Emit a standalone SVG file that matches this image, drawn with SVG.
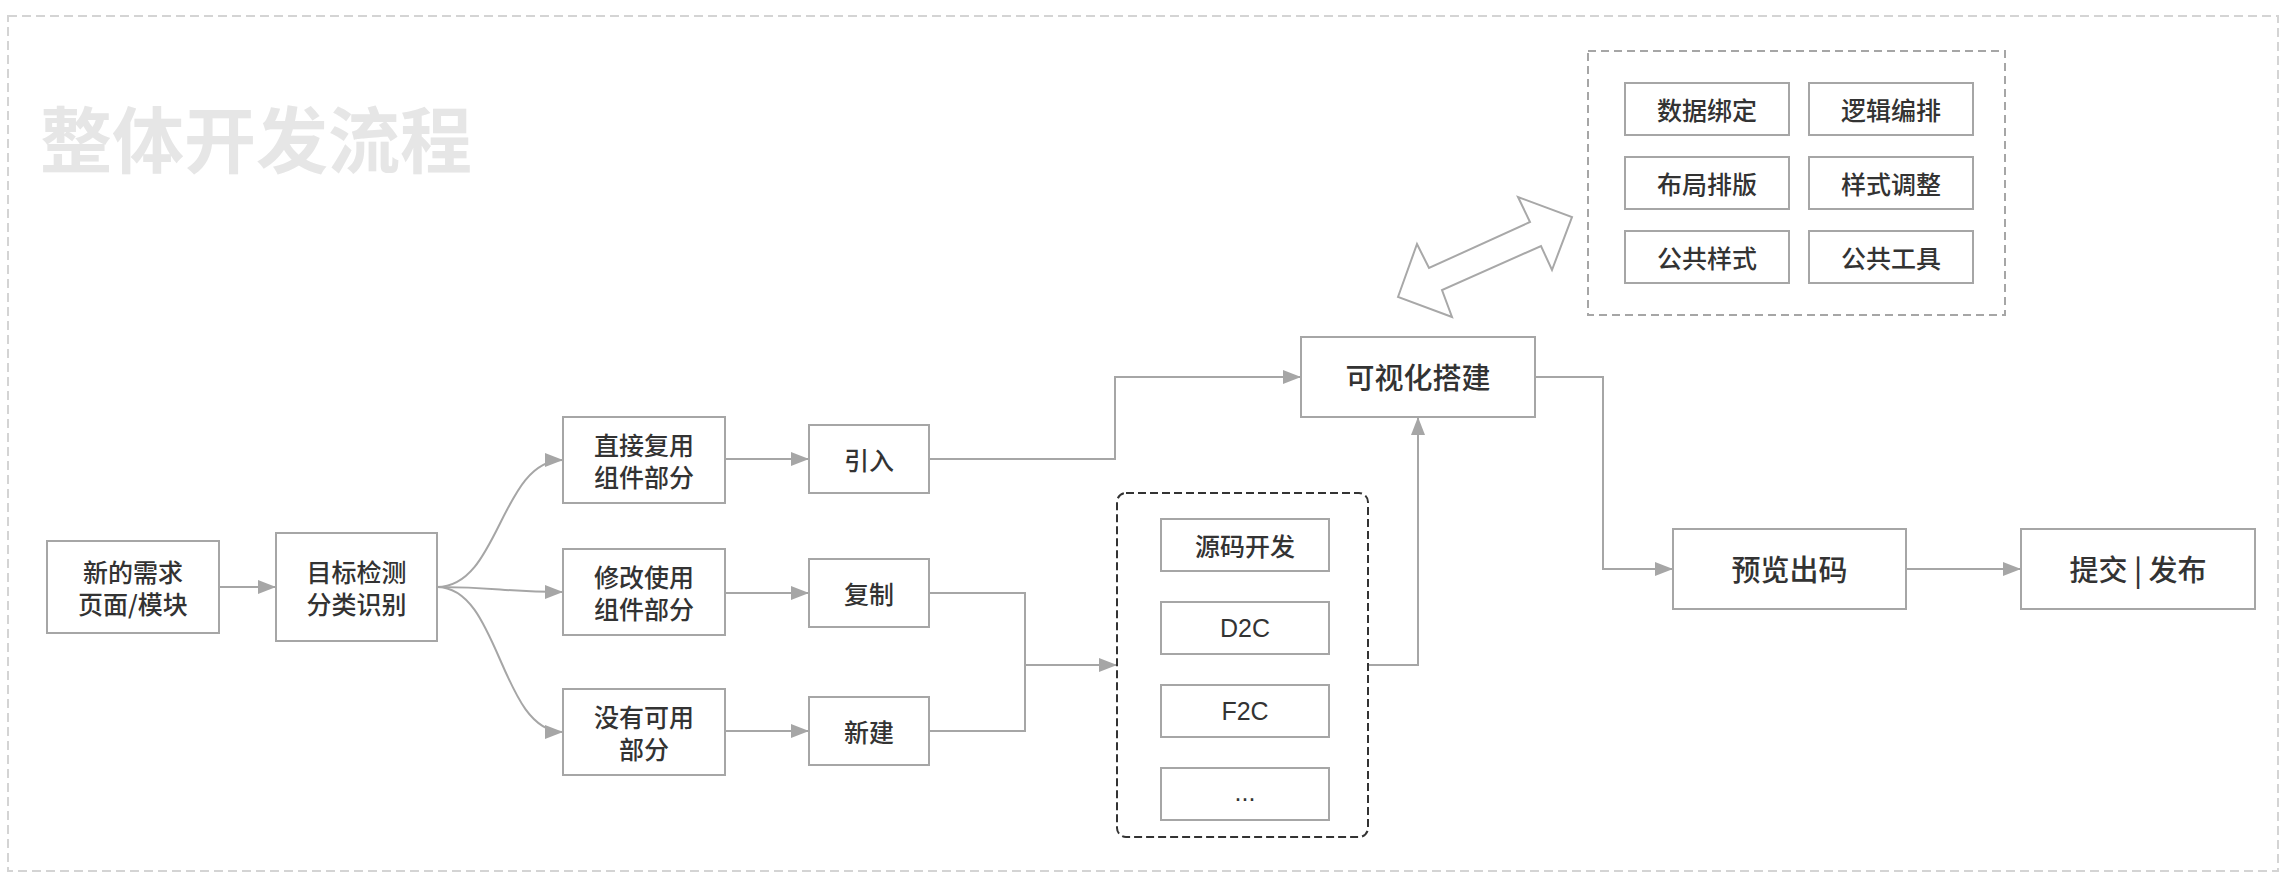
<svg xmlns="http://www.w3.org/2000/svg" width="2294" height="886" viewBox="0 0 2294 886">
<style>
  .box { fill: #ffffff; stroke: #a6a6a6; stroke-width: 2; }
  .t { font-family: "Noto Sans CJK SC", "Liberation Sans", sans-serif; font-size: 25px; font-weight: 500; fill: #333333; text-anchor: middle; dominant-baseline: central; }
  .tl { font-family: "Liberation Sans", "Noto Sans CJK SC", sans-serif; font-size: 25px; fill: #333333; text-anchor: middle; dominant-baseline: central; }
  .big { font-size: 29px; }
  .conn { fill: none; stroke: #a6a6a6; stroke-width: 2; }
</style>
<defs>
  <marker id="ah" markerUnits="userSpaceOnUse" markerWidth="20" markerHeight="14" refX="18" refY="7" orient="auto">
    <path d="M0,0 L18,7 L0,14 Z" fill="#a6a6a6"/>
  </marker>
</defs>
<rect x="8" y="16" width="2270" height="855" fill="none" stroke="#d4d4d4" stroke-width="2" stroke-dasharray="9 5"/>
<text x="40" y="135" font-family="Noto Sans CJK SC, sans-serif" font-size="72" font-weight="700" fill="#e6e6e6" dominant-baseline="central">整体开发流程</text>

<g id="connectors">
  <path class="conn" d="M219,587 H276" marker-end="url(#ah)"/>
  <path class="conn" d="M437,587 C500,587 500,460 563,460" marker-end="url(#ah)"/>
  <path class="conn" d="M437,587 C500,587 500,592 563,592" marker-end="url(#ah)"/>
  <path class="conn" d="M437,587 C500,587 500,732 563,732" marker-end="url(#ah)"/>
  <path class="conn" d="M725,459 H809" marker-end="url(#ah)"/>
  <path class="conn" d="M725,593 H809" marker-end="url(#ah)"/>
  <path class="conn" d="M725,731 H809" marker-end="url(#ah)"/>
  <path class="conn" d="M929,459 H1115 V377 H1301" marker-end="url(#ah)"/>
  <path class="conn" d="M929,593 H1025 V665 H1117" marker-end="url(#ah)"/>
  <path class="conn" d="M929,731 H1025 V665"/>
  <path class="conn" d="M1368,665 H1418 V417" marker-end="url(#ah)"/>
  <path class="conn" d="M1535,377 H1603 V569 H1673" marker-end="url(#ah)"/>
  <path class="conn" d="M1906,569 H2021" marker-end="url(#ah)"/>
  <polygon points="1398,297 1417,244 1429,268 1530,222 1518,197 1572,217 1552,270 1541,246 1442,290 1452,317" fill="#ffffff" stroke="#a8a8a8" stroke-width="2" stroke-linejoin="miter"/>
</g>

<g id="n-new">
  <rect class="box" x="47" y="541" width="172" height="92"/>
  <text class="t" x="133" y="571">新的需求</text>
  <text class="t" x="133" y="603">页面/模块</text>
</g>
<g id="n-detect">
  <rect class="box" x="276" y="533" width="161" height="108"/>
  <text class="t" x="356.5" y="571">目标检测</text>
  <text class="t" x="356.5" y="603">分类识别</text>
</g>
<g id="n-reuse">
  <rect class="box" x="563" y="417" width="162" height="86"/>
  <text class="t" x="644" y="444">直接复用</text>
  <text class="t" x="644" y="476">组件部分</text>
</g>
<g id="n-modify">
  <rect class="box" x="563" y="549" width="162" height="86"/>
  <text class="t" x="644" y="576">修改使用</text>
  <text class="t" x="644" y="608">组件部分</text>
</g>
<g id="n-none">
  <rect class="box" x="563" y="689" width="162" height="86"/>
  <text class="t" x="644" y="716">没有可用</text>
  <text class="t" x="644" y="748">部分</text>
</g>
<g id="n-import">
  <rect class="box" x="809" y="425" width="120" height="68"/>
  <text class="t" x="869" y="459">引入</text>
</g>
<g id="n-copy">
  <rect class="box" x="809" y="559" width="120" height="68"/>
  <text class="t" x="869" y="593">复制</text>
</g>
<g id="n-create">
  <rect class="box" x="809" y="697" width="120" height="68"/>
  <text class="t" x="869" y="731">新建</text>
</g>
<g id="n-dev">
  <rect x="1117" y="493" width="251" height="344" rx="9" fill="none" stroke="#333333" stroke-width="2" stroke-dasharray="8 4"/>
  <rect class="box" x="1161" y="519" width="168" height="52"/>
  <text class="t" x="1245" y="545">源码开发</text>
  <rect class="box" x="1161" y="602" width="168" height="52"/>
  <text class="tl" x="1245" y="628">D2C</text>
  <rect class="box" x="1161" y="685" width="168" height="52"/>
  <text class="tl" x="1245" y="711">F2C</text>
  <rect class="box" x="1161" y="768" width="168" height="52"/>
  <text class="tl" x="1245" y="792">...</text>
</g>
<g id="n-visual">
  <rect class="box" x="1301" y="337" width="234" height="80"/>
  <text class="t big" x="1418" y="376">可视化搭建</text>
</g>
<g id="n-features">
  <rect x="1588" y="51" width="417" height="264" fill="none" stroke="#a6a6a6" stroke-width="2" stroke-dasharray="8 5"/>
  <rect class="box" x="1625" y="83" width="164" height="52"/>
  <text class="t" x="1707" y="109">数据绑定</text>
  <rect class="box" x="1809" y="83" width="164" height="52"/>
  <text class="t" x="1891" y="109">逻辑编排</text>
  <rect class="box" x="1625" y="157" width="164" height="52"/>
  <text class="t" x="1707" y="183">布局排版</text>
  <rect class="box" x="1809" y="157" width="164" height="52"/>
  <text class="t" x="1891" y="183">样式调整</text>
  <rect class="box" x="1625" y="231" width="164" height="52"/>
  <text class="t" x="1707" y="257">公共样式</text>
  <rect class="box" x="1809" y="231" width="164" height="52"/>
  <text class="t" x="1891" y="257">公共工具</text>
</g>
<g id="n-preview">
  <rect class="box" x="1673" y="529" width="233" height="80"/>
  <text class="t big" x="1789.5" y="568">预览出码</text>
</g>
<g id="n-publish">
  <rect class="box" x="2021" y="529" width="234" height="80"/>
  <text class="t big" x="2138" y="568">提交 | 发布</text>
</g>
</svg>
